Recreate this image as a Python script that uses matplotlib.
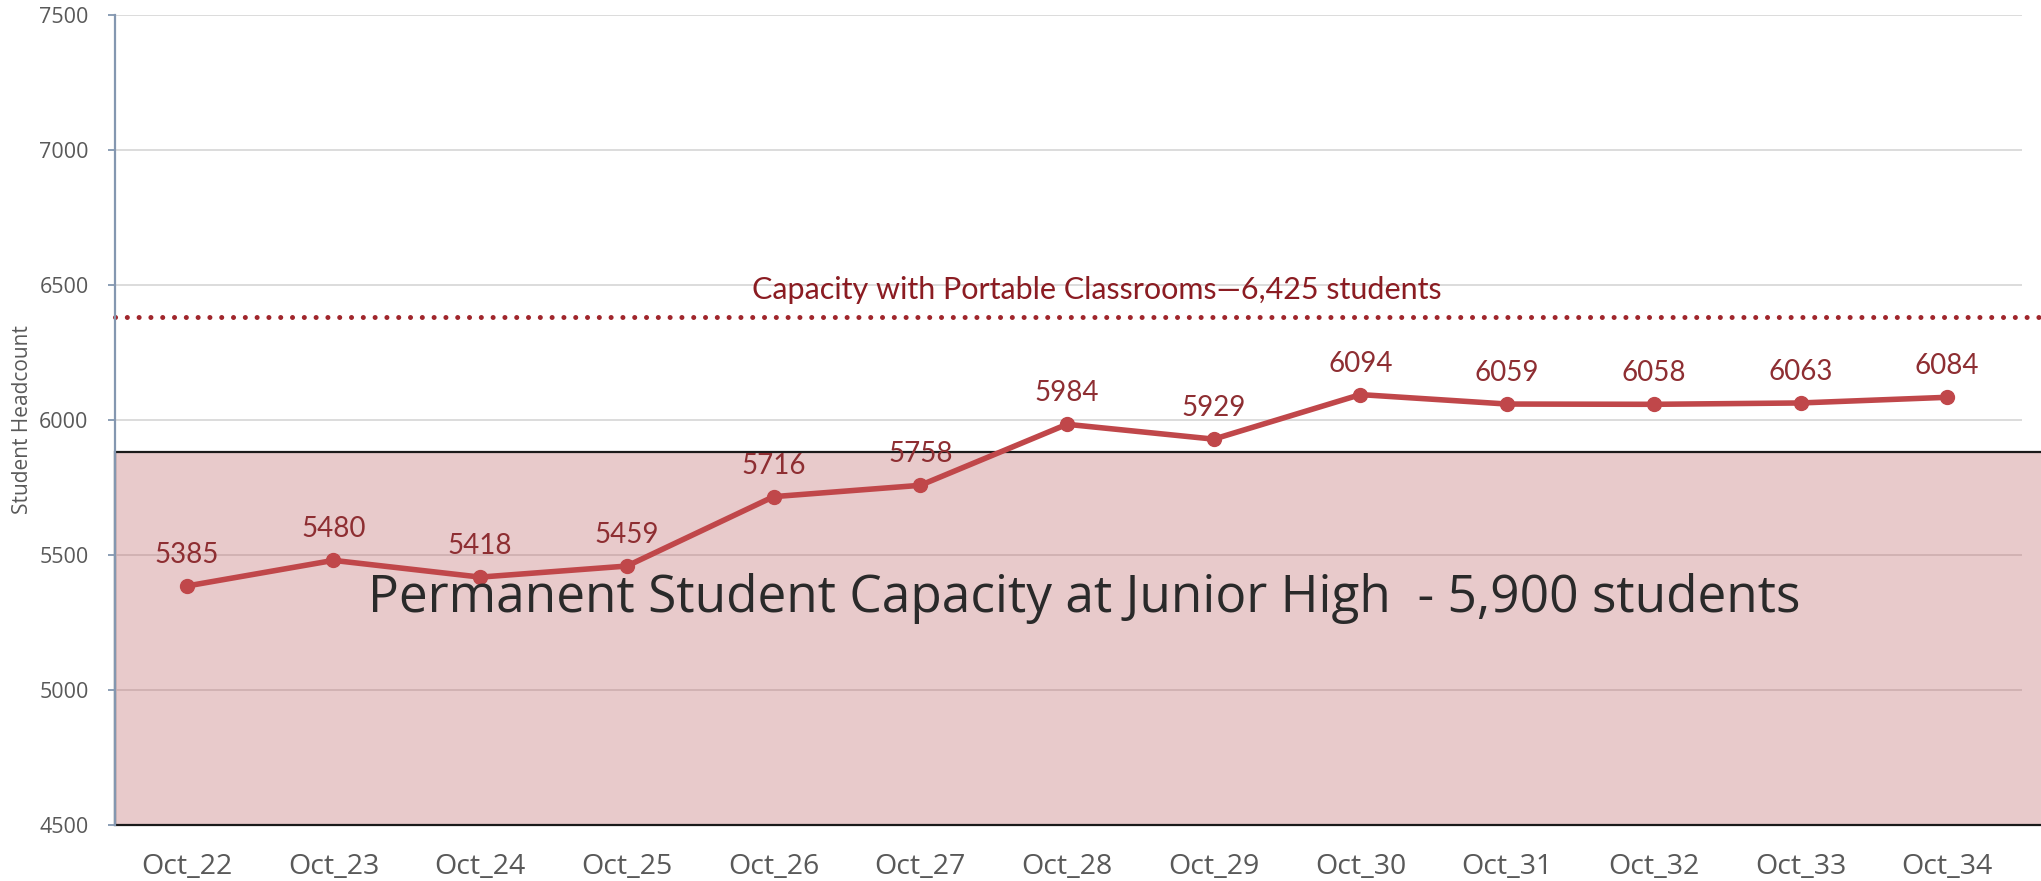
import matplotlib.pyplot as plt
from matplotlib.patches import Rectangle

years = ['Oct_22', 'Oct_23', 'Oct_24', 'Oct_25', 'Oct_26', 'Oct_27', 'Oct_28',
         'Oct_29', 'Oct_30', 'Oct_31', 'Oct_32', 'Oct_33', 'Oct_34']
headcount = [5385, 5480, 5418, 5459, 5716, 5758, 5984, 5929, 6094, 6059, 6058, 6063, 6084]
yticks = [4500, 5000, 5500, 6000, 6500, 7000, 7500]

permanent_capacity = 5880   # drawn height of the shaded box
portable_capacity = 6380    # drawn height of the dotted line
permanent_text = 'Permanent Student Capacity at Junior High  - 5,900 students'
portable_text = 'Capacity with Portable Classrooms\u20146,425 students'

fig = plt.figure(figsize=(20.41, 8.81), dpi=100)
ax = fig.add_axes([0.0563, 0.0636, 0.9344, 0.9194])

x = list(range(len(years)))
ax.set_xlim(-0.49, 12.51)
ax.set_ylim(4500, 7500)

# grid
for v in yticks[1:]:
    ax.axhline(v, color='#d9d9d9', lw=1.3, zorder=0)

# permanent capacity box (runs off the right edge)
box = Rectangle((-0.49, 4500), 14, permanent_capacity - 4500,
                facecolor='#e8cacb', edgecolor='#1a1a1a', lw=1.6,
                zorder=1, clip_on=False)
ax.add_patch(box)
for v in [5000, 5500]:
    ax.axhline(v, color='#cfb0b1', lw=1.3, zorder=1.5)

# portable capacity dotted line
ax.plot([-0.49, 13.0], [portable_capacity, portable_capacity], color='#a0262c',
        ls=(0, (0.01, 2.35)), lw=3.6, dash_capstyle='round', clip_on=False, zorder=2)
ax.text(6.2, portable_capacity + 50, portable_text, ha='center', va='bottom',
        fontsize=22, color='#8b1c22', family='Lato', zorder=3)

# headcount line
ax.plot(x, headcount, color='#c0474a', lw=4, marker='o', markersize=10,
        zorder=4)
for xi, v in zip(x, headcount):
    ax.annotate(str(v), (xi, v), xytext=(0, 13), textcoords='offset points',
                ha='center', va='bottom', fontsize=20, color='#8e2e32',
                family='Lato', zorder=5)

ax.text(6.12, 5340, permanent_text, ha='center', va='center', fontsize=37,
        color='#2a2a2a', family='Open Sans', zorder=5)

# axes styling
ax.set_xticks(x)
ax.set_xticklabels(years, fontsize=20.5, color='#595959', family='Open Sans')
ax.set_yticks(yticks)
ax.set_yticklabels([str(v) for v in yticks], fontsize=15.5, color='#595959',
                   family='Open Sans')
ax.tick_params(axis='x', length=0, pad=20)
ax.tick_params(axis='y', length=5, width=1.3, color='#8497b0', pad=14)
ax.set_ylabel('Student Headcount', fontsize=15, color='#595959',
              family='Open Sans')
ax.yaxis.set_label_coords(-0.043, 0.5)

for side in ['top', 'right', 'bottom']:
    ax.spines[side].set_visible(False)
ax.spines['left'].set_color('#8497b0')
ax.spines['left'].set_linewidth(1.6)
ax.spines['left'].set_zorder(6)

plt.savefig('out.png', dpi=100)
